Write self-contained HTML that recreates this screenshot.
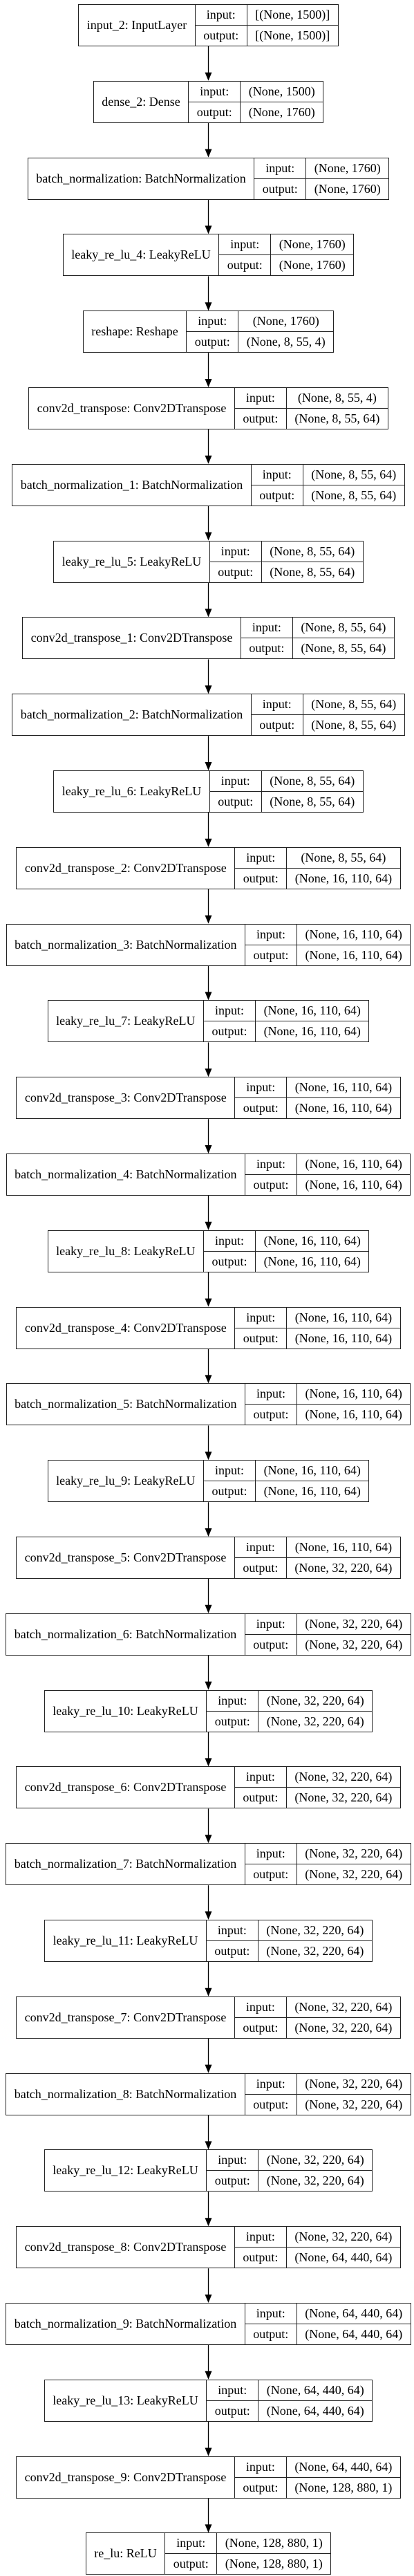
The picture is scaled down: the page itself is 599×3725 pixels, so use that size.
<!DOCTYPE html>
<html>
<head>
<meta charset="utf-8">
<style>
  html,body{margin:0;padding:0;background:#fff;}
  body{width:599px;height:3725px;position:relative;overflow:hidden;
       font-family:"Liberation Serif","Times New Roman",serif;font-size:18px;color:#000;}
  .box{position:absolute;height:61px;box-sizing:border-box;border:1.3px solid #222;display:flex;background:#fff;white-space:nowrap;}
  .lbl{display:flex;align-items:center;justify-content:center;padding:0 11.5px;border-right:1.3px solid #222;}
  .col{display:flex;flex-direction:column;}
  .col.io{border-right:1.3px solid #222;}
  .cell{flex:1;display:flex;align-items:center;justify-content:center;padding:0 11.5px;}
  .cell.top{border-bottom:1.3px solid #222;}
  svg{position:absolute;left:0;top:0;}
</style>
</head>
<body>
<svg id="arrows" width="599" height="3725"></svg>
<script>
const layerNames = ["input_2: InputLayer","dense_2: Dense","batch_normalization: BatchNormalization","leaky_re_lu_4: LeakyReLU","reshape: Reshape",
"conv2d_transpose: Conv2DTranspose","batch_normalization_1: BatchNormalization","leaky_re_lu_5: LeakyReLU",
"conv2d_transpose_1: Conv2DTranspose","batch_normalization_2: BatchNormalization","leaky_re_lu_6: LeakyReLU",
"conv2d_transpose_2: Conv2DTranspose","batch_normalization_3: BatchNormalization","leaky_re_lu_7: LeakyReLU",
"conv2d_transpose_3: Conv2DTranspose","batch_normalization_4: BatchNormalization","leaky_re_lu_8: LeakyReLU",
"conv2d_transpose_4: Conv2DTranspose","batch_normalization_5: BatchNormalization","leaky_re_lu_9: LeakyReLU",
"conv2d_transpose_5: Conv2DTranspose","batch_normalization_6: BatchNormalization","leaky_re_lu_10: LeakyReLU",
"conv2d_transpose_6: Conv2DTranspose","batch_normalization_7: BatchNormalization","leaky_re_lu_11: LeakyReLU",
"conv2d_transpose_7: Conv2DTranspose","batch_normalization_8: BatchNormalization","leaky_re_lu_12: LeakyReLU",
"conv2d_transpose_8: Conv2DTranspose","batch_normalization_9: BatchNormalization","leaky_re_lu_13: LeakyReLU",
"conv2d_transpose_9: Conv2DTranspose","re_lu: ReLU"];
const A="(None, 8, 55, 64)", B="(None, 16, 110, 64)", C="(None, 32, 220, 64)", D="(None, 64, 440, 64)", E="(None, 128, 880, 1)";
const inputShapes = ["[(None, 1500)]","(None, 1500)","(None, 1760)","(None, 1760)","(None, 1760)",
"(None, 8, 55, 4)",A,A,A,A,A,
A,B,B,B,B,B,B,B,B,
B,C,C,C,C,C,C,C,C,
C,D,D,D,E];
const outputShapes = ["[(None, 1500)]","(None, 1760)","(None, 1760)","(None, 1760)","(None, 8, 55, 4)",
A,A,A,A,A,A,
B,B,B,B,B,B,B,B,B,
C,C,C,C,C,C,C,C,C,
D,D,D,E,E];

const CX = 301.5, TOP0 = 6, PITCH = 110.8, BH = 61;
const svg = document.getElementById('arrows');
const NS = "http://www.w3.org/2000/svg";
function slug(s){return s.split(':')[0].replace(/_/g,'-');}
layerNames.forEach((name,i)=>{
  const box = document.createElement('div');
  box.className='box';
  
  
  const lbl = document.createElement('div'); lbl.className='lbl'; lbl.textContent=name;
  
  
  const io = document.createElement('div'); io.className='col io';
  io.innerHTML='<div class="cell top">input:</div><div class="cell">output:</div>';
  const val = document.createElement('div'); val.className='col';
  const vi = document.createElement('div'); vi.className='cell top'; vi.textContent=inputShapes[i];
  
  
  const vo = document.createElement('div'); vo.className='cell'; vo.textContent=outputShapes[i];
  
  
  val.appendChild(vi); val.appendChild(vo);
  box.appendChild(lbl); box.appendChild(io); box.appendChild(val);
  const top = TOP0 + i*PITCH;
  box.style.top = top + 'px';
  document.body.appendChild(box);
  const w = box.getBoundingClientRect().width;
  box.style.left = (CX - w/2) + 'px';
  if(i < layerNames.length-1){
    const y1 = top + BH, y2 = TOP0 + (i+1)*PITCH;
    const ln = document.createElementNS(NS,'line');
    ln.setAttribute('x1',CX);ln.setAttribute('x2',CX);ln.setAttribute('y1',y1);ln.setAttribute('y2',y2-10);
    ln.setAttribute('stroke','#000');ln.setAttribute('stroke-width','1.3');
    
    
    svg.appendChild(ln);
    const hd = document.createElementNS(NS,'polygon');
    hd.setAttribute('points',`${CX-5},${y2-12} ${CX+5},${y2-12} ${CX},${y2}`);
    hd.setAttribute('fill','#000');
    
    
    svg.appendChild(hd);
  }
});
</script>
</body>
</html>
